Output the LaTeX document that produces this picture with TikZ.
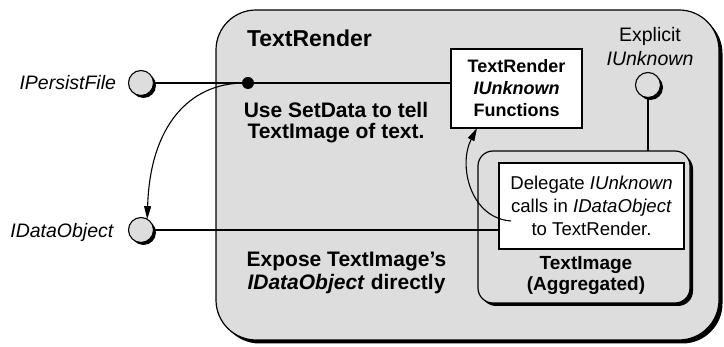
\documentclass[tikz,border=0pt]{standalone}
\usepackage{fontspec}
\setmainfont{Liberation Sans}
\usetikzlibrary{arrows.meta,shadows}
\definecolor{panel}{RGB}{221,221,221}

\begin{document}
\begin{tikzpicture}[x=1pt,y=-1pt,
  every node/.style={inner sep=0pt, outer sep=0pt},
  lnk/.style={line width=1.1pt},
  arr/.style={line width=1.1pt, -{Triangle[length=13pt,width=7pt]}},
  hardshadow/.style={drop shadow={shadow xshift=#1, shadow yshift=-#1, fill=black, opacity=1}},
  panelbox/.style={draw, line width=1.2pt, fill=panel, rounded corners=#1},
  whitebox/.style={draw, line width=1.1pt, fill=white, align=center},
  port/.style={circle, draw, line width=1.1pt, fill=panel, minimum size=25pt, hardshadow=2.5pt},
  lbl/.style={font=\fontsize{19.5pt}{24pt}\selectfont},
  boldlbl/.style={font=\bfseries\fontsize{21pt}{21pt}\selectfont, align=center}
]
\useasboundingbox (0,0) rectangle (724,347);

% outer TextRender object
\node[panelbox=40pt, hardshadow=3.5pt, minimum width=503pt, minimum height=330pt] (render) at (467.5,175) {};
\node[anchor=base west, font=\bfseries\fontsize{23pt}{27pt}\selectfont] (title) at (247,47) {TextRender};

% aggregated TextImage object
\node[panelbox=15pt, hardshadow=3pt, minimum width=212pt, minimum height=152pt] (agg) at (584,227) {};
\node[font=\bfseries\fontsize{19pt}{21pt}\selectfont, align=center] (agglabel) at (586,275) {TextImage\\(Aggregated)};

% inner boxes
\node[whitebox, minimum width=131pt, minimum height=79pt,
      font=\bfseries\fontsize{18pt}{22pt}\selectfont] (trbox) at (516.5,88.5)
      {TextRender\\\textit{IUnknown}\\Functions};
\node[whitebox, minimum width=185pt, minimum height=86pt,
      font=\fontsize{18.6pt}{23pt}\selectfont] (del) at (591.5,206)
      {Delegate \textit{IUnknown}\\calls in \textit{IDataObject}\\to TextRender.};

% explanatory texts
\node[boldlbl] (setdata) at (336,123) {Use SetData to tell\\TextImage of text.};
\node[boldlbl, font=\bfseries\fontsize{21pt}{23pt}\selectfont] (expose) at (346.5,273) {Expose TextImage’s\\\textit{IDataObject} directly};

% interface ports
\node[port] (pf) at (141,83) {};
\node[port] (ido) at (141,230) {};
\node[port] (ex) at (648,85) {};
\node[lbl, anchor=base east] (pflabel) at (116,90) {\textit{IPersistFile}};
\node[lbl, anchor=base east] (idolabel) at (114,238) {\textit{IDataObject}};
\node[lbl, align=center] (exlabel) at (650,47) {Explicit\\\textit{IUnknown}};

% junction dot
\node[circle, fill=black, minimum size=12pt] (dot) at (248,83) {};
\coordinate (dstart) at (511,221);

% connectors
\draw[lnk] (pf) -- (dot);
\draw[lnk] (dot) -- (dot -| trbox.west);
\draw[lnk] (ido) -- (ido -| del.west);
\draw[lnk] (ex) -- (ex |- agg.north);
\draw[arr] (dot) .. controls (190,84) and (150,125) .. (ido.60);
\draw[arr] (dstart) .. controls (470,218) and (458,165) .. (trbox.-135);
\end{tikzpicture}
\end{document}
